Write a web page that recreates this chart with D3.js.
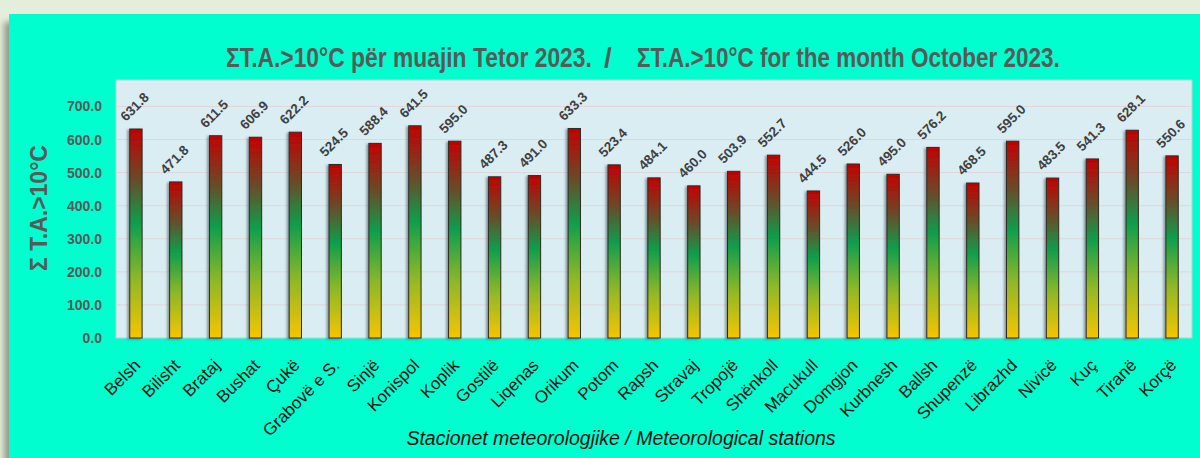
<!DOCTYPE html>
<html>
<head>
<meta charset="utf-8">
<script src="https://cdn.jsdelivr.net/npm/d3@7"></script>
<style>
  html, body { margin: 0; padding: 0; background: #e4eedb; }
  svg { display: block; }
</style>
</head>
<body>
<div id="chart"></div>
<script>
// stations and sums of active temperatures > 10°C, October 2023
var stations = ["Belsh", "Bilisht", "Brataj", "Bushat", "Çukë", "Grabovë e S.", "Sinjë", "Konispol",
  "Koplik", "Gostilë", "Liqenas", "Orikum", "Potom", "Rapsh", "Stravaj", "Tropojë", "Shënkoll",
  "Macukull", "Domgjon", "Kurbnesh", "Ballsh", "Shupenzë", "Librazhd", "Nivicë", "Kuç", "Tiranë", "Korçë"];
var sums = [631.8, 471.8, 611.5, 606.9, 622.2, 524.5, 588.4, 641.5, 595.0, 487.3, 491.0, 633.3,
  523.4, 484.1, 460.0, 503.9, 552.7, 444.5, 526.0, 495.0, 576.2, 468.5, 595.0, 483.5, 541.3, 628.1, 550.6];
var yTicks = [0, 100, 200, 300, 400, 500, 600, 700];

var titleParts = ["ΣT.A.>10°C për muajin Tetor 2023.", "/", "ΣT.A.>10°C for the month October 2023."];
var yTitle = "Σ T.A.>10°C";
var xTitle = "Stacionet meteorologjike / Meteorological stations";

var W = 1200, H = 458;
var margin = {top: 80, right: 8, bottom: 120, left: 116};
var width = W - margin.left - margin.right,
    height = H - margin.top - margin.bottom;

var svg = d3.select("#chart").append("svg")
    .attr("width", W)
    .attr("height", H);

var defs = svg.append("defs");

//panel shadow
var f1 = defs.append("filter").attr("id", "panelShadow")
    .attr("x", "-5%").attr("y", "-5%").attr("width", "110%").attr("height", "115%");
f1.append("feDropShadow").attr("dx", -5).attr("dy", 8).attr("stdDeviation", 3)
    .attr("flood-color", "#7d8577").attr("flood-opacity", 0.8);

//bar shadow
var f2 = defs.append("filter").attr("id", "barShadow")
    .attr("x", "-60%").attr("y", "-5%").attr("width", "200%").attr("height", "115%");
f2.append("feDropShadow").attr("dx", -2).attr("dy", 1).attr("stdDeviation", 1.2)
    .attr("flood-color", "#4a5a60").attr("flood-opacity", 0.55);

//bar gradient, yellow bottom -> green -> red top
var grad = defs.append("linearGradient").attr("id", "barGrad")
    .attr("x1", 0).attr("y1", 1).attr("x2", 0).attr("y2", 0);
[[0, "#f6c500"], [0.28, "#90b826"], [0.55, "#0e9e4c"], [0.76, "#6a4a28"], [1, "#c40000"]]
  .forEach(function(s) {
    grad.append("stop").attr("offset", s[0]).attr("stop-color", s[1]);
  });

//cyan panel
svg.append("rect")
    .attr("x", 9).attr("y", 14)
    .attr("width", W).attr("height", H)
    .attr("fill", "#00fecf")
    .attr("filter", "url(#panelShadow)");

//title, three pieces squeezed horizontally (narrow font look)
var titleX = [226, 604, 637], titleW = [366, null, 423];
titleParts.forEach(function(t, i) {
  var tt = svg.append("text")
      .attr("font-family", "'Liberation Sans', Arial, sans-serif")
      .attr("font-weight", "bold")
      .attr("font-size", 28)
      .attr("fill", "#595959")
      .text(t);
  var sx = titleW[i] ? titleW[i] / tt.node().getComputedTextLength() : 1;
  tt.attr("transform", "translate(" + titleX[i] + ",67) scale(" + sx + ",1)");
});

var g = svg.append("g")
    .attr("transform", "translate(" + margin.left + "," + margin.top + ")");

var x = d3.scaleBand().domain(stations).range([0, width]).paddingInner(0.69).paddingOuter(0.345);
var y = d3.scaleLinear().domain([0, 780]).range([height, 0]);

//plot area
g.append("rect")
    .attr("width", width).attr("height", height)
    .attr("fill", "#daedf3")
    .attr("stroke", "#c3cdd2");

//grid
g.selectAll(".grid").data(yTicks.slice(1)).enter().append("line")
    .attr("x1", 0).attr("x2", width)
    .attr("y1", function(d){ return y(d); })
    .attr("y2", function(d){ return y(d); })
    .attr("stroke", "#e0d5db").attr("stroke-width", 1);

//y axis
var yAxis = d3.axisLeft(y).tickValues(yTicks).tickFormat(d3.format(".1f")).tickSize(0).tickPadding(14);
var ya = g.append("g").call(yAxis);
ya.select(".domain").remove();
ya.selectAll("text")
    .attr("font-family", "'Liberation Sans', Arial, sans-serif")
    .attr("font-weight", "bold")
    .attr("font-size", 14)
    .attr("fill", "#595959");

//bars
g.selectAll(".bar").data(sums).enter().append("rect")
    .attr("x", function(d, i){ return x(stations[i]); })
    .attr("y", function(d){ return y(d); })
    .attr("width", x.bandwidth())
    .attr("height", function(d){ return height - y(d); })
    .attr("fill", "url(#barGrad)")
    .attr("stroke", "#2e2a22").attr("stroke-width", 1)
    .attr("filter", "url(#barShadow)");

//value labels
g.selectAll(".val").data(sums).enter().append("text")
    .attr("transform", function(d, i){
      var cx = x(stations[i]) + x.bandwidth() / 2;
      return "translate(" + (cx - 10) + "," + (y(d) - 7) + ") rotate(-45)";
    })
    .attr("font-family", "'Liberation Sans', Arial, sans-serif")
    .attr("font-weight", "bold")
    .attr("font-size", 13.5)
    .attr("fill", "#404040")
    .text(function(d){ return d3.format(".1f")(d); });

//station labels
g.selectAll(".xl").data(stations).enter().append("text")
    .attr("transform", function(d){
      var cx = x(d) + x.bandwidth() / 2;
      return "translate(" + (cx - 3) + "," + (height + 20) + ") rotate(-45)";
    })
    .attr("text-anchor", "end")
    .attr("dy", "0.7em")
    .attr("font-family", "'Liberation Sans', Arial, sans-serif")
    .attr("font-size", 17)
    .attr("fill", "#111")
    .text(function(d){ return d; });

//axis titles
svg.append("text")
    .attr("transform", "translate(47,208) rotate(-90)")
    .attr("text-anchor", "middle")
    .attr("font-family", "'Liberation Sans', Arial, sans-serif")
    .attr("font-weight", "bold")
    .attr("font-size", 23)
    .attr("fill", "#595959")
    .text(yTitle);

svg.append("text")
    .attr("x", 621).attr("y", 445)
    .attr("text-anchor", "middle")
    .attr("font-family", "'Liberation Sans', Arial, sans-serif")
    .attr("font-style", "italic")
    .attr("font-size", 19.5)
    .attr("fill", "#111")
    .text(xTitle);
</script>
</body>
</html>
